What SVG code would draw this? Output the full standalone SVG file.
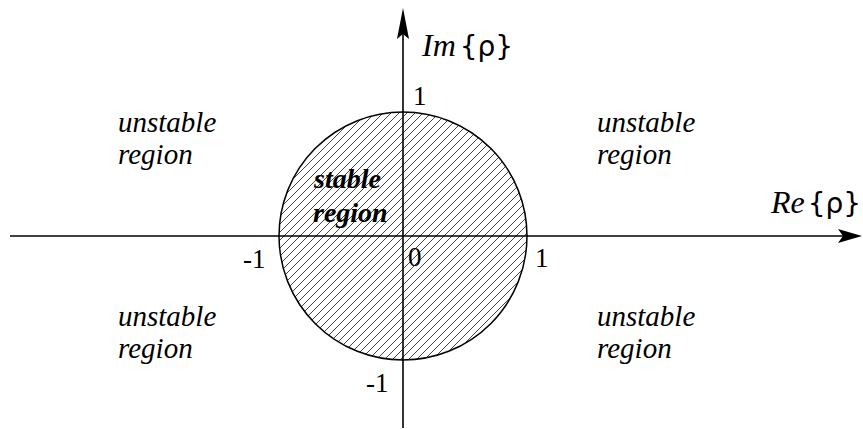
<svg xmlns="http://www.w3.org/2000/svg" width="863" height="429" viewBox="0 0 863 429">
<style>
.lbl{font-family:"Liberation Serif","DejaVu Serif",serif;font-style:italic;font-size:29px;fill:#000}
.stb{font-family:"Liberation Serif","DejaVu Serif",serif;font-style:italic;font-weight:bold;font-size:28px;fill:#000}
.num{font-family:"Liberation Serif","DejaVu Serif",serif;font-size:27px;fill:#000}
.ax{font-family:"Liberation Serif","DejaVu Serif",serif;font-style:italic;font-size:32px;fill:#000}
.sym{font-family:"DejaVu Sans",sans-serif;font-style:normal;font-size:28px}
.axis{stroke:#000;stroke-width:1.6;fill:none}
</style>
<defs>
<pattern id="hatch" patternUnits="userSpaceOnUse" width="8" height="8">
<path d="M-2,2 L2,-2 M0,8 L8,0 M6,10 L10,6" stroke="#333" stroke-width="0.9"/>
</pattern>
</defs>
<rect width="863" height="429" fill="#fff"/>
<g id="disk">
<circle cx="403" cy="236" r="124" fill="url(#hatch)" stroke="#000" stroke-width="1.5"/>
</g>
<g id="axes">
<line class="axis" x1="10" y1="236" x2="845" y2="236"/>
<polygon points="862,236 838,229 843,236 838,243" fill="#000"/>
<line class="axis" x1="403" y1="428" x2="403" y2="30"/>
<polygon points="403,8 397,39 403,34 409,39" fill="#000"/>
</g>
<g id="axis-labels">
<text class="ax" x="422" y="56">Im<tspan class="sym" dx="4">{ρ}</tspan></text>
<text class="ax" x="771" y="213">Re<tspan class="sym" dx="3">{ρ}</tspan></text>
</g>
<g id="ticks">
<text class="num" x="413" y="105">1</text>
<text class="num" x="243" y="268">-1</text>
<text class="num" x="408" y="266">0</text>
<text class="num" x="535" y="267">1</text>
<text class="num" x="366" y="392">-1</text>
</g>
<g id="stable">
<text class="stb" x="314" y="188">stable</text>
<text class="stb" x="313" y="222">region</text>
</g>
<g id="unstable-tl">
<text class="lbl" x="118" y="132">unstable</text>
<text class="lbl" x="118" y="164">region</text>
</g>
<g id="unstable-tr">
<text class="lbl" x="597" y="132">unstable</text>
<text class="lbl" x="597" y="164">region</text>
</g>
<g id="unstable-bl">
<text class="lbl" x="118" y="326">unstable</text>
<text class="lbl" x="118" y="358">region</text>
</g>
<g id="unstable-br">
<text class="lbl" x="597" y="326">unstable</text>
<text class="lbl" x="597" y="358">region</text>
</g>
</svg>
